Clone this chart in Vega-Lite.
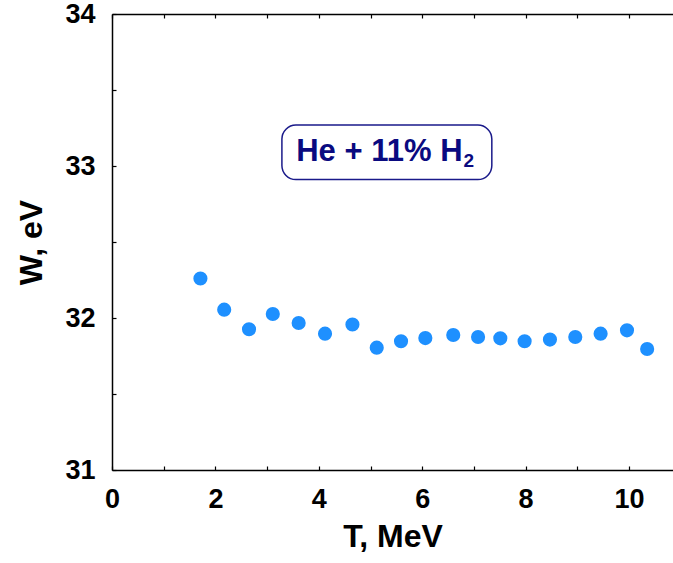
{
  "$schema": "https://vega.github.io/schema/vega-lite/v6.json",
  "width": 561,
  "height": 456,
  "autosize": "none",
  "padding": {"left": 112, "top": 14, "right": 0, "bottom": 93},
  "background": "white",
  "config": {
    "view": {"stroke": null},
    "font": "Liberation Sans",
    "axis": {
      "domainColor": "black",
      "domainWidth": 1.5,
      "tickColor": "black",
      "tickWidth": 1.2,
      "grid": false,
      "labelFont": "Liberation Sans",
      "labelFontWeight": "bold",
      "labelFontSize": 27,
      "labelColor": "black",
      "titleFont": "Liberation Sans",
      "titleFontWeight": "bold",
      "titleFontSize": 32,
      "titleColor": "black"
    }
  },
  "datasets": {
    "pts": [
      {"T": 1.71, "W": 32.26},
      {"T": 2.17, "W": 32.055},
      {"T": 2.65, "W": 31.926},
      {"T": 3.11, "W": 32.026},
      {"T": 3.61, "W": 31.967},
      {"T": 4.12, "W": 31.897},
      {"T": 4.65, "W": 31.957},
      {"T": 5.12, "W": 31.805},
      {"T": 5.59, "W": 31.847},
      {"T": 6.06, "W": 31.868},
      {"T": 6.60, "W": 31.888},
      {"T": 7.08, "W": 31.875},
      {"T": 7.51, "W": 31.866},
      {"T": 7.98, "W": 31.847},
      {"T": 8.47, "W": 31.858},
      {"T": 8.96, "W": 31.875},
      {"T": 9.45, "W": 31.897},
      {"T": 9.96, "W": 31.919},
      {"T": 10.35, "W": 31.796}
    ],
    "box": [
      {"x1": 3.286, "x2": 7.346, "y1": 32.911, "y2": 33.269}
    ],
    "texts": [
      {"x": 5.171, "y": 33.034, "text": "He + 11% H", "part": "main"},
      {"x": 6.80, "y": 32.994, "text": "2", "part": "sub"}
    ]
  },
  "resolve": {"axis": {"x": "independent"}},
  "layer": [
    {
      "data": {"name": "pts"},
      "mark": {"type": "point", "filled": true, "opacity": 1, "size": 200, "color": "#1e90ff"},
      "encoding": {
        "x": {
          "field": "T", "type": "quantitative",
          "scale": {"domain": [0, 10.85], "nice": false, "zero": false},
          "axis": {
            "title": "T, MeV",
            "titlePadding": 9,
            "values": [0,1,2,3,4,5,6,7,8,9,10],
            "labelExpr": "datum.value % 2 == 0 ? format(datum.value, 'd') : ''",
            "tickSize": -4,
            "labelPadding": 20,
            "labelFlush": false
          }
        },
        "y": {
          "field": "W", "type": "quantitative",
          "scale": {"domain": [31, 34], "nice": false, "zero": false},
          "axis": {
            "title": "W, eV",
            "titlePadding": 16,
            "values": [31,31.25,31.5,31.75,32,32.25,32.5,32.75,33,33.25,33.5,33.75,34],
            "labelExpr": "datum.value % 1 == 0 ? format(datum.value, 'd') : ''",
            "tickSize": -4,
            "labelPadding": 21,
            "labelOverlap": false
          }
        }
      }
    },
    {
      "data": {"name": "box"},
      "mark": {"type": "rect", "fill": "white", "stroke": "#1a1a8a", "strokeWidth": 1.5, "cornerRadius": 14},
      "encoding": {
        "x": {"field": "x1", "type": "quantitative", "axis": {"orient": "top", "title": null, "labels": false, "values": [0,1,2,3,4,5,6,7,8,9,10], "tickSize": -4, "domainWidth": 1.5}},
        "x2": {"field": "x2"},
        "y": {"field": "y1", "type": "quantitative"},
        "y2": {"field": "y2"}
      }
    },
    {
      "data": {"name": "texts"},
      "transform": [{"filter": "datum.part == 'main'"}],
      "mark": {"type": "text", "font": "Liberation Sans", "fontWeight": "bold", "fontSize": 31, "color": "#0a0a80", "align": "center", "baseline": "alphabetic"},
      "encoding": {
        "x": {"field": "x", "type": "quantitative", "axis": null},
        "y": {"field": "y", "type": "quantitative"},
        "text": {"field": "text"}
      }
    },
    {
      "data": {"name": "texts"},
      "transform": [{"filter": "datum.part == 'sub'"}],
      "mark": {"type": "text", "font": "Liberation Sans", "fontWeight": "bold", "fontSize": 19, "color": "#0a0a80", "align": "left", "baseline": "alphabetic"},
      "encoding": {
        "x": {"field": "x", "type": "quantitative", "axis": null},
        "y": {"field": "y", "type": "quantitative"},
        "text": {"field": "text"}
      }
    }
  ]
}
